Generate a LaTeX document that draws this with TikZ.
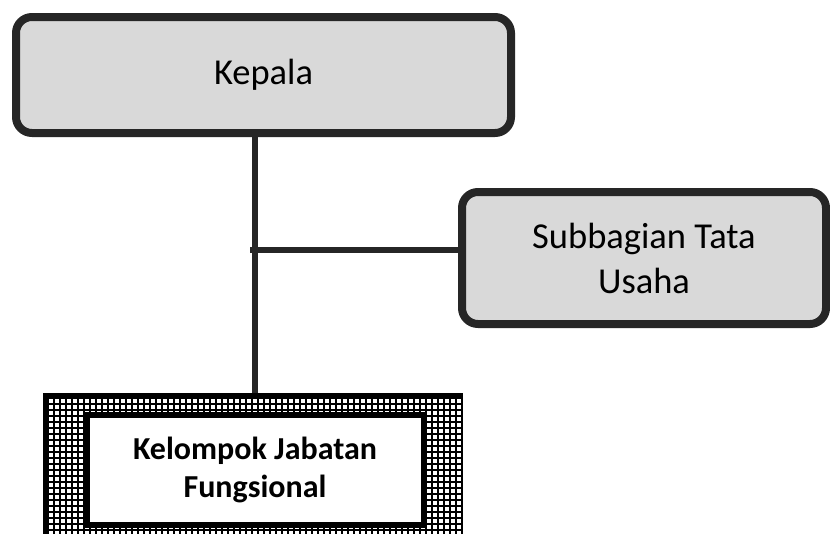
\documentclass[tikz,border=0pt]{standalone}
\usepackage{fontspec}
\setmainfont{Carlito}
\definecolor{boxfill}{HTML}{D9D9D9}
\definecolor{boxline}{HTML}{262626}
\tikzset{
  graybox/.style={draw=boxline, fill=boxfill, line width=8pt, rounded corners=16pt,
    align=center, inner sep=0pt, font=\fontsize{36.5}{45}\selectfont, text=black},
  conn/.style={draw=boxline, line width=6pt},
  gridframe/.style={draw=black, fill=black, line width=3.5pt, inner sep=0pt},
  gridcell/.style={fill=white},
  whitebox/.style={draw=black, fill=white, line width=6pt, inner sep=0pt, align=center,
    font=\bfseries\fontsize{32}{38}\selectfont}
}
\begin{document}
\begin{tikzpicture}[x=1pt, y=-1pt]
\clip (0,0) rectangle (830,533);
\fill[white] (0,0) rectangle (830,533);
\node[graybox, minimum width=495pt, minimum height=116pt] (kepala) at (263.5,75) {Kepala};
\node[graybox, minimum width=364pt, minimum height=132pt] (sub) at (644,258) {Subbagian Tata\\Usaha};
\node[gridframe, minimum width=416pt, minimum height=150pt] (frame) at (253,470) {};
\begin{scope}
  \clip ([xshift=1.75pt,yshift=-1.75pt]frame.north west) rectangle ([xshift=-1.75pt]frame.south east);
  \foreach \i in {0,...,69} {
    \foreach \k in {0,...,23} {
      \fill[gridcell] (48.6+6*\i, 398.6+6*\k) rectangle ++(4.3,4.3);
    }
  }
\end{scope}
\node[whitebox, minimum width=337pt, minimum height=110pt] (fung) at (255,470) {Kelompok Jabatan\\Fungsional};
\coordinate (j) at (255,250);
\draw[conn] (kepala.south -| j) -- (frame.north -| j);
\draw[conn] ([xshift=-5pt]j) -- (j -| sub.west);
\end{tikzpicture}
\end{document}
